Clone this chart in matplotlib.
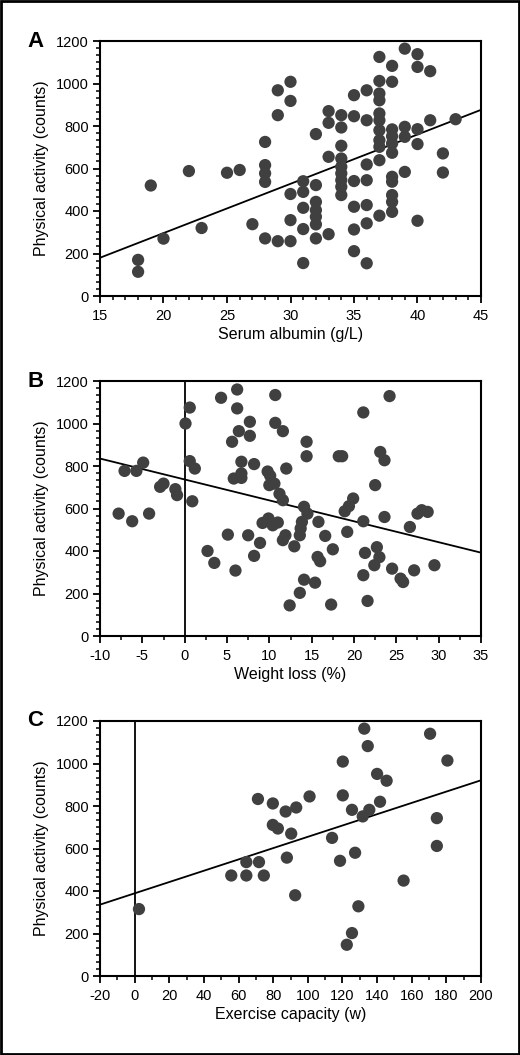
import numpy as np
import matplotlib
matplotlib.use("Agg")
import matplotlib.pyplot as plt
from matplotlib.ticker import MultipleLocator
from matplotlib.patches import Rectangle

plt.rcParams['font.family'] = ['Liberation Sans', 'DejaVu Sans']
plt.rcParams['axes.unicode_minus'] = False

# Panel A: serum albumin vs physical activity
albumin = [18, 18, 19, 20, 22, 23, 25, 26, 27,
           28, 28, 28, 28, 28,
           29, 29, 29,
           30, 30, 30, 30, 30,
           31, 31, 31, 31, 31,
           32, 32, 32, 32, 32, 32, 32,
           33, 33, 33, 33,
           34, 34, 34, 34, 34, 34, 34, 34, 34,
           35, 35, 35, 35, 35, 35,
           36, 36, 36, 36, 36, 36, 36,
           37, 37, 37, 37, 37, 37, 37, 37, 37, 37, 37,
           38, 38, 38, 38, 38, 38, 38, 38, 38, 38, 38,
           39, 39, 39, 39,
           40, 40, 40, 40, 40,
           41, 41, 42, 42, 43]
activity_a = [170, 114, 520, 270, 588, 320, 580, 593, 338,
              725, 616, 577, 537, 271,
              968, 851, 258,
              1008, 918, 480, 357, 258,
              540, 490, 415, 315, 155,
              762, 522, 443, 404, 373, 337, 271,
              870, 815, 655, 291,
              851, 793, 707, 647, 608, 577, 545, 514, 475,
              945, 846, 541, 420, 313, 211,
              968, 827, 619, 545, 428, 342, 154,
              1125, 1012, 953, 921, 859, 827, 780, 733, 702, 639, 378,
              1083, 1008, 784, 752, 718, 674, 561, 538, 475, 443, 396,
              1164, 796, 749, 584,
              1138, 1078, 785, 715, 354,
              1058, 827, 671, 581, 832]
fit_a = (23.2, -168.0)  # slope, intercept

# Panel B: weight loss vs physical activity
weight_loss = [-7.8, -7.1, -6.2, -5.7, -4.9, -4.2, -2.9, -2.5, -1.1, -0.9,
               0.1, 0.6, 0.6, 1.2, 0.9, 2.7, 3.5, 4.3, 5.1, 5.6,
               6.2, 6.2, 6.4, 6.0, 5.8, 6.7, 6.7, 6.7, 7.5, 7.7,
               7.7, 8.2, 8.2, 8.9, 9.2, 9.9, 10.4, 11.0, 9.8, 10.1,
               10.0, 10.6, 10.7, 10.7, 11.2, 11.6, 11.6, 11.6, 11.9, 12.0,
               12.4, 12.95, 13.6, 14.1, 15.4, 14.1, 14.5, 13.85, 13.7, 13.6,
               15.8, 16.6, 17.5, 15.7, 16.0, 17.3, 14.4, 14.4, 18.2, 18.6,
               18.9, 19.4, 19.9, 19.2, 21.1, 21.1, 21.3, 21.1, 21.6, 22.5,
               22.7, 23.0, 22.4, 23.1, 23.6, 23.6, 24.2, 24.5, 25.5, 25.8,
               26.6, 27.1, 27.5, 28.0, 28.7, 29.5]
activity_b = [576, 777, 540, 777, 816, 576, 702, 717, 691, 663,
              1000, 1075, 823, 788, 634, 400, 344, 1121, 477, 914,
              1160, 1071, 964, 308, 741, 820, 765, 744, 474, 1008,
              942, 809, 377, 438, 532, 553, 521, 534, 774, 754,
              710, 717, 1134, 1003, 669, 639, 964, 451, 474, 788,
              144, 422, 203, 265, 251, 608, 576, 537, 506, 474,
              537, 471, 408, 372, 352, 148, 914, 846, 846, 846,
              587, 611, 647, 490, 1052, 540, 391, 286, 165, 710,
              418, 371, 333, 866, 827, 560, 1129, 317, 270, 254,
              513, 309, 576, 592, 584, 333]
fit_b = (-9.84, 736.6)

# Panel C: exercise capacity vs physical activity
exercise = [2.5, 55.8, 64.5, 64.5, 71.8, 74.6, 71.2, 79.8, 79.8, 82.7,
            87.2, 90.4, 87.9, 92.7, 93.3, 101, 114, 118.6, 120.2, 120.2,
            125.5, 127.3, 129.2, 125.5, 122.5, 131.7, 135.5, 132.6, 134.6, 140,
            145.5, 141.7, 155.3, 170.6, 174.5, 174.5, 180.6]
activity_c = [315, 473, 473, 536, 536, 473, 833, 812, 711, 694,
              774, 670, 557, 380, 793, 845, 650, 542, 1009, 850,
              782, 580, 328, 202, 147, 751, 782, 1164, 1082, 951,
              919, 820, 449, 1140, 743, 612, 1014]
fit_c = (2.66, 389.0)

panels = [
    ("A", albumin, activity_a, fit_a, (15, 45), 5, 1, "Serum albumin (g/L)", False),
    ("B", weight_loss, activity_b, fit_b, (-10, 35), 5, 2.5, "Weight loss (%)", True),
    ("C", exercise, activity_c, fit_c, (-20, 200), 20, 10, "Exercise capacity (w)", True),
]
bottoms = [1 - 296 / 1055, 1 - 636 / 1055, 1 - 976 / 1055]

fig = plt.figure(figsize=(5.2, 10.55), dpi=100)
for (letter, xs, ys, fit, xlim, major, minor, xlabel, zero_line), bottom in zip(panels, bottoms):
    ax = fig.add_axes([100 / 520, bottom, 381 / 520, 255 / 1055])
    if zero_line:
        ax.axvline(0, color="black", lw=1.3, zorder=1)
    xx = np.array(xlim, dtype=float)
    ax.plot(xx, fit[0] * xx + fit[1], color="black", lw=1.3, zorder=1)
    ax.scatter(xs, ys, s=78, color="#404040", edgecolors="none", zorder=3, clip_on=False)
    ax.set_xlim(*xlim)
    ax.set_ylim(0, 1200)
    ax.xaxis.set_major_locator(MultipleLocator(major))
    ax.xaxis.set_minor_locator(MultipleLocator(minor))
    ax.yaxis.set_major_locator(MultipleLocator(200))
    ax.yaxis.set_minor_locator(MultipleLocator(200 / 6))
    ax.tick_params(which="major", direction="out", length=5, width=1.3, labelsize=10.5, pad=3)
    ax.tick_params(axis="x", which="major", pad=4)
    ax.tick_params(which="minor", direction="out", length=3, width=1.1)
    for sp in ax.spines.values():
        sp.set_linewidth(1.5)
    ax.set_xlabel(xlabel, fontsize=11.5, labelpad=3)
    ax.set_ylabel("Physical activity (counts)", fontsize=11.5, labelpad=5)
    ax.text(-0.19, 1.0, letter, transform=ax.transAxes, fontsize=16, fontweight="bold",
            ha="left", va="center")

fig.patches.append(Rectangle((0.002, 0.001), 0.996, 0.998, transform=fig.transFigure,
                             fill=False, edgecolor="black", lw=2))
fig.savefig("out.png", dpi=100)
